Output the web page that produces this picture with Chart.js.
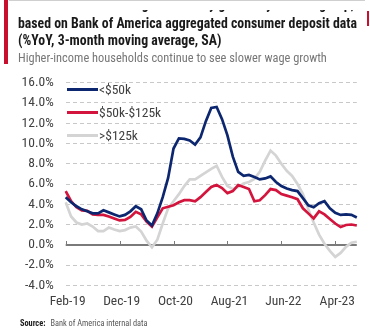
<!DOCTYPE html>
<html><head><meta charset="utf-8">
<script src="https://cdn.jsdelivr.net/npm/chart.js@4/dist/chart.umd.min.js"></script>
<style>
html,body{margin:0;padding:0;background:#fff;}
#wrap{position:relative;width:370px;height:328px;overflow:hidden;background:#fff;font-family:"Roboto Condensed","DejaVu Sans Condensed",sans-serif;}
canvas{position:absolute;left:0;top:0;}
.bar{position:absolute;left:4px;top:0;width:4px;height:64px;background:#c8102e;}
.bar2{position:absolute;left:367px;top:11px;width:2px;height:15px;background:#c8102e;}
.t0{position:absolute;left:18px;top:-4.5px;font-weight:bold;font-size:13.8px;line-height:17px;color:#1a1a1a;white-space:nowrap;}
.cover{position:absolute;left:9px;top:0;width:356px;height:9px;background:#fff;border-top:1px solid #cfcfcf;}
.t1{position:absolute;left:18px;top:14.5px;font-weight:bold;font-size:13.8px;line-height:17px;color:#1a1a1a;white-space:nowrap;}
.sub{position:absolute;left:18px;top:49.5px;font-size:12.4px;color:#777;white-space:nowrap;}
.src{position:absolute;left:20px;top:318px;font-size:8.3px;color:#555;white-space:nowrap;}
.src b{color:#1a1a1a;margin-right:5px;}
.li{position:absolute;left:67px;height:16px;font-size:13.5px;color:#404040;white-space:nowrap;}
.sw{position:absolute;left:0;top:7px;width:31px;height:3px;}
.lt{position:absolute;left:32px;top:0;line-height:16px;}
</style>
</head>
<body>
<div id="wrap">
<canvas id="c" width="370" height="328"></canvas>
<div class="t0">Exhibit 3: After-tax wage and salary growth by income group,</div>
<div class="cover"></div>
<div class="bar"></div>
<div class="bar2"></div>
<div class="t1">based on Bank of America aggregated consumer deposit data<br>(%YoY, 3-month moving average, SA)</div>
<div class="sub">Higher-income households continue to see slower wage growth</div>
<div id="legend"></div>
<div class="src"><b>Source:</b>Bank of America internal data</div>
</div>
<script>
const labels = ["Feb-19","Mar-19","Apr-19","May-19","Jun-19","Jul-19","Aug-19","Sep-19","Oct-19","Nov-19","Dec-19",
"Jan-20","Feb-20","Mar-20","Apr-20","May-20","Jun-20","Jul-20","Aug-20","Sep-20","Oct-20",
"Nov-20","Dec-20","Jan-21","Feb-21","Mar-21","Apr-21","May-21","Jun-21","Jul-21","Aug-21",
"Sep-21","Oct-21","Nov-21","Dec-21","Jan-22","Feb-22","Mar-22","Apr-22","May-22","Jun-22",
"Jul-22","Aug-22","Sep-22","Oct-22","Nov-22","Dec-22","Jan-23","Feb-23","Mar-23","Apr-23",
"May-23","Jun-23","Jul-23","Aug-23"];
const seriesNames = ["<$50k","$50k-$125k",">$125k"];
const under50k = [4.7,4.2,3.8,3.5,3.3,3.1,3.1,3.4,3.2,3.0,2.8,2.95,3.3,3.8,3.5,2.4,1.9,3.1,4.7,6.6,
9.5,10.5,10.45,10.3,9.9,10.6,12.2,13.5,13.6,12.4,10.8,8.7,7.2,6.8,6.9,6.7,6.45,6.55,6.75,6.2,
5.8,5.55,5.4,5.3,4.6,3.9,3.7,4.1,4.3,3.6,3.15,2.95,3.0,2.95,2.7];
const mid50to125k = [5.3,4.3,3.7,3.4,3.35,3.0,2.95,2.95,2.8,2.6,2.4,2.45,2.75,3.25,3.0,2.3,1.8,2.7,3.6,3.75,
3.9,4.2,4.4,4.4,4.3,4.7,5.2,5.7,5.9,5.6,5.1,5.3,5.9,5.7,5.5,4.3,4.4,4.9,5.5,5.4,
5.0,4.85,4.7,4.5,3.6,3.1,2.6,3.3,3.0,2.55,2.1,1.75,1.95,2.0,1.9];
const over125k = [4.2,2.8,2.2,2.0,2.1,1.8,1.35,1.35,1.7,1.5,1.35,1.45,1.7,1.8,1.3,0.4,-0.25,0.5,2.1,3.6,
4.3,5.0,5.8,6.45,6.45,6.8,7.15,7.5,7.8,6.7,5.8,5.5,5.7,6.05,6.2,6.5,7.2,8.3,9.3,8.8,
8.0,7.3,6.8,6.0,5.0,3.5,2.2,1.0,0.1,-0.6,-1.2,-0.8,-0.2,0.2,0.3];
const yTicks = [-4,-2,0,2,4,6,8,10,12,14,16];

const colors = ["#0c2670","#d3143c","#d4d4d4"];
const FONT = '"Roboto Condensed","DejaVu Sans Condensed",sans-serif';

const lg = document.getElementById('legend');
seriesNames.forEach((n,i)=>{
  const d = document.createElement('div'); d.className='li'; d.style.top=(81+i*23)+'px';
  const s = document.createElement('div'); s.className='sw'; s.style.background=colors[i];
  const t = document.createElement('div'); t.className='lt'; t.textContent=n;
  d.appendChild(s); d.appendChild(t); lg.appendChild(d);
});

const zeroAxis = {
  id:'zeroAxis',
  beforeDatasetsDraw(chart){
    const {ctx, chartArea, scales:{x,y}} = chart;
    const y0 = Math.round(y.getPixelForValue(0));
    ctx.save();
    ctx.strokeStyle = '#7a7a7a';
    ctx.lineWidth = 2;
    ctx.beginPath(); ctx.moveTo(chartArea.left, y0); ctx.lineTo(chartArea.right, y0); ctx.stroke();
    ctx.lineWidth = 1;
    labels.forEach((l,i)=>{
      if(i%10===0){
        const px = Math.round(x.getPixelForValue(i))+0.5;
        ctx.beginPath(); ctx.moveTo(px,y0); ctx.lineTo(px,y0-4); ctx.stroke();
      }
    });
    ctx.restore();
  }
};

new Chart(document.getElementById('c'), {
  type:'line',
  data:{
    labels: labels,
    datasets:[
      {label:seriesNames[0], data:under50k, borderColor:colors[0], borderWidth:2.7, pointRadius:0, tension:0},
      {label:seriesNames[1], data:mid50to125k, borderColor:colors[1], borderWidth:2.7, pointRadius:0, tension:0},
      {label:seriesNames[2], data:over125k, borderColor:colors[2], borderWidth:2.7, pointRadius:0, tension:0}
    ]
  },
  options:{
    responsive:false, animation:false, devicePixelRatio:1,
    layout:{padding:{top:82.7, right:13.2, left:0, bottom:0}},
    plugins:{legend:{display:false}, tooltip:{enabled:false}},
    scales:{
      x:{
        type:'category',
        grid:{display:false, drawTicks:false},
        border:{display:false},
        afterFit(s){ s.height = 42.7; },
        ticks:{autoSkip:false, maxRotation:0, minRotation:0, padding:8.3, labelOffset:2, color:'#404040',
          font:{family:FONT, size:13.5},
          callback:(v,i)=> i%10===0 ? labels[i] : ''}
      },
      y:{
        min:-4, max:16,
        afterFit(s){ s.width = 65.7; },
        afterBuildTicks(s){ s.ticks = yTicks.map(v=>({value:v})); },
        grid:{drawTicks:false, lineWidth:1, color:c=> c.tick && c.tick.value===0 ? 'rgba(0,0,0,0)' : '#c8c8c8'},
        border:{display:false, dash:[4,3]},
        ticks:{padding:12, color:'#404040', font:{family:FONT, size:13.5},
          callback:v=> v.toFixed(1)+'%'}
      }
    }
  },
  plugins:[zeroAxis]
});
</script>
</body></html>
